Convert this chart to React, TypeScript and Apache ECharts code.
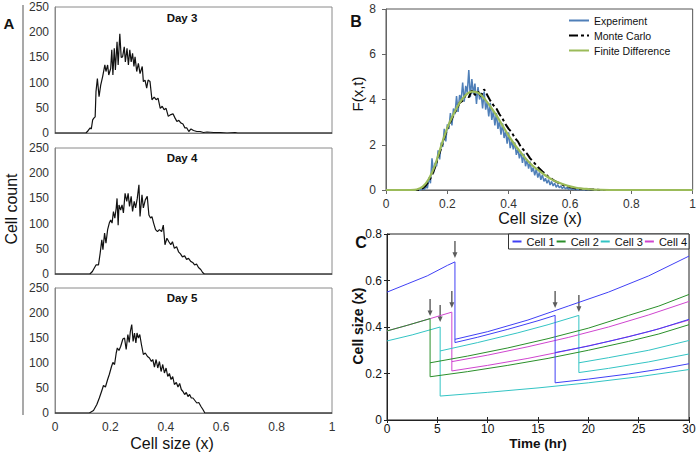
import React, { useEffect, useRef } from 'react';
import * as echarts from 'echarts';

// ---------- Panel A data (cell size, cell count) ----------
const day3Points = [
  [0, 0], [0.112, 0], [0.12, 5], [0.127, 10], [0.131, 8], [0.136, 26], [0.141, 30], [0.145, 32], [0.148, 82], [0.153, 108],
  [0.159, 72], [0.165, 95], [0.172, 112], [0.18, 135], [0.184, 122], [0.19, 135], [0.194, 115], [0.201, 128],
  [0.205, 165], [0.209, 115], [0.214, 168], [0.218, 125], [0.224, 181], [0.228, 135], [0.234, 197], [0.239, 150],
  [0.244, 151], [0.25, 171], [0.254, 141], [0.26, 168], [0.265, 135], [0.27, 165], [0.275, 141], [0.28, 158],
  [0.285, 132], [0.289, 151], [0.295, 122], [0.301, 138], [0.307, 118], [0.315, 132], [0.319, 102], [0.325, 105],
  [0.331, 89], [0.336, 105], [0.343, 102], [0.35, 66], [0.358, 71], [0.365, 66], [0.372, 69], [0.38, 49],
  [0.387, 53], [0.394, 46], [0.401, 49], [0.409, 33], [0.416, 36], [0.426, 38], [0.433, 30], [0.44, 23],
  [0.447, 25], [0.454, 20], [0.462, 18], [0.469, 10], [0.476, 10], [0.483, 3], [0.491, 8], [0.5, 5],
  [0.512, 3], [0.524, 3], [0.536, 1], [0.549, 2], [0.573, 1], [0.597, 1], [0.621, 0], [0.65, 1], [0.66, 0], [1, 0],
];

const day4Points = [
  [0, 0], [0.126, 0], [0.135, 5], [0.148, 18], [0.157, 18], [0.163, 41], [0.169, 68], [0.173, 48], [0.179, 81],
  [0.184, 61], [0.19, 88], [0.196, 101], [0.201, 107], [0.206, 101], [0.211, 124], [0.216, 111], [0.221, 131],
  [0.224, 150], [0.228, 97], [0.231, 137], [0.237, 127], [0.242, 137], [0.247, 121], [0.253, 160], [0.259, 144],
  [0.264, 160], [0.269, 134], [0.275, 154], [0.28, 124], [0.286, 144], [0.291, 131], [0.297, 150], [0.303, 177],
  [0.307, 114], [0.314, 157], [0.319, 131], [0.326, 147], [0.333, 154], [0.339, 117], [0.345, 111], [0.35, 114],
  [0.356, 101], [0.363, 88], [0.37, 84], [0.377, 88], [0.385, 84], [0.391, 97], [0.397, 58], [0.404, 71],
  [0.411, 64], [0.418, 58], [0.424, 64], [0.431, 51], [0.439, 54], [0.446, 44], [0.453, 40], [0.46, 34],
  [0.468, 36], [0.475, 29], [0.482, 31], [0.49, 25], [0.497, 23], [0.504, 18], [0.511, 20], [0.518, 13],
  [0.526, 9], [0.533, 3], [0.539, 0], [1, 0],
];

const day5Points = [
  [0, 0], [0.124, 0], [0.139, 5], [0.151, 17], [0.16, 30], [0.168, 43], [0.175, 55], [0.182, 52], [0.19, 67],
  [0.196, 77], [0.204, 93], [0.209, 101], [0.215, 97], [0.221, 120], [0.225, 130], [0.231, 125], [0.237, 133],
  [0.245, 148], [0.251, 150], [0.257, 127], [0.263, 157], [0.268, 141], [0.272, 163], [0.277, 177], [0.282, 143],
  [0.287, 160], [0.292, 140], [0.296, 160], [0.301, 150], [0.306, 157], [0.312, 137], [0.319, 117], [0.326, 120],
  [0.334, 113], [0.341, 110], [0.348, 103], [0.353, 107], [0.359, 92], [0.365, 107], [0.371, 90], [0.377, 103],
  [0.383, 83], [0.389, 97], [0.395, 80], [0.401, 90], [0.407, 73], [0.413, 79], [0.419, 67], [0.425, 73],
  [0.431, 57], [0.438, 61], [0.444, 52], [0.45, 59], [0.456, 47], [0.462, 43], [0.468, 37], [0.474, 41],
  [0.48, 33], [0.486, 37], [0.492, 30], [0.498, 30], [0.505, 25], [0.512, 20], [0.519, 21], [0.527, 13],
  [0.534, 7], [0.541, 0], [1, 0],
];

const dayTitles = ['Day 3', 'Day 4', 'Day 5'];
const countTicks = [0, 50, 100, 150, 200, 250];

// ---------- Panel B data (F(x,t)) ----------
const experimentPoints = [
  [0, 0], [0.1, 0], [0.105, 0], [0.11, 0], [0.115, 0.02], [0.12, 0.05], [0.125, 0.02], [0.13, 0.15], [0.135, 0.08],
  [0.14, 0.55], [0.145, 0.3], [0.15, 1.4], [0.155, 0.75], [0.16, 1.2], [0.165, 1.05], [0.17, 1.75], [0.175, 1.35],
  [0.18, 2.1], [0.185, 1.9], [0.19, 2.7], [0.195, 2.15], [0.2, 2.9], [0.205, 2.7], [0.21, 3.4], [0.215, 2.85],
  [0.22, 3.6], [0.225, 3.35], [0.23, 4.15], [0.235, 3.45], [0.24, 4.2], [0.245, 3.95], [0.25, 4.75], [0.255, 3.9],
  [0.26, 4.6], [0.265, 4.3], [0.27, 5.3], [0.275, 4.1], [0.28, 4.9], [0.285, 4.25], [0.29, 4.7], [0.295, 3.8],
  [0.3, 4.55], [0.305, 4.0], [0.31, 4.3], [0.315, 3.6], [0.32, 4.35], [0.325, 3.55], [0.33, 3.9], [0.335, 3.25],
  [0.34, 3.85], [0.345, 3.1], [0.35, 3.5], [0.355, 2.85], [0.36, 3.4], [0.365, 2.7], [0.37, 3.05], [0.375, 2.45],
  [0.38, 2.95], [0.385, 2.3], [0.39, 2.6], [0.395, 2.05], [0.4, 2.55], [0.405, 1.85], [0.41, 2.2], [0.415, 1.8],
  [0.42, 2.1], [0.425, 1.55], [0.43, 1.85], [0.435, 1.4], [0.44, 1.7], [0.445, 1.2], [0.45, 1.6], [0.455, 1.05],
  [0.46, 1.35], [0.465, 0.95], [0.47, 1.25], [0.475, 0.8], [0.48, 1.0], [0.485, 0.65], [0.49, 0.92], [0.495, 0.55],
  [0.5, 0.78], [0.505, 0.45], [0.51, 0.68], [0.515, 0.38], [0.52, 0.52], [0.525, 0.3], [0.53, 0.46], [0.535, 0.22],
  [0.54, 0.38], [0.545, 0.18], [0.55, 0.3], [0.555, 0.12], [0.56, 0.24], [0.565, 0.1], [0.57, 0.18], [0.575, 0.06],
  [0.58, 0.15], [0.585, 0.05], [0.59, 0.11], [0.595, 0.03], [0.6, 0.09], [0.605, 0.02], [0.61, 0.06], [0.615, 0.01],
  [0.62, 0.04], [0.625, 0.01], [0.63, 0.03], [0.635, 0], [0.64, 0.02], [0.645, 0], [0.65, 0.01], [0.66, 0], [1, 0],
];

const monteCarloPoints = [
  [0, 0], [0.1, 0], [0.11, 0.02], [0.12, 0.08], [0.13, 0.2], [0.14, 0.4], [0.15, 0.65], [0.16, 1.0], [0.17, 1.45],
  [0.18, 1.85], [0.19, 2.3], [0.2, 2.7], [0.21, 3.0], [0.22, 3.3], [0.23, 3.55], [0.24, 3.85], [0.25, 3.95],
  [0.26, 4.2], [0.27, 4.1], [0.28, 4.4], [0.29, 4.2], [0.3, 4.35], [0.31, 4.15], [0.32, 4.45], [0.33, 4.2],
  [0.34, 3.95], [0.35, 3.75], [0.36, 3.6], [0.37, 3.35], [0.38, 3.15], [0.39, 2.9], [0.4, 2.7], [0.41, 2.55],
  [0.42, 2.3], [0.43, 2.15], [0.44, 1.9], [0.45, 1.75], [0.46, 1.6], [0.47, 1.4], [0.48, 1.25], [0.49, 1.1],
  [0.5, 0.95], [0.51, 0.82], [0.52, 0.7], [0.53, 0.58], [0.54, 0.5], [0.55, 0.4], [0.56, 0.33], [0.57, 0.27],
  [0.58, 0.21], [0.59, 0.17], [0.6, 0.13], [0.61, 0.1], [0.62, 0.07], [0.63, 0.06], [0.64, 0.04], [0.65, 0.03],
  [0.66, 0.03], [0.67, 0.02], [0.68, 0.02], [0.69, 0.01], [0.7, 0], [1, 0],
];

const finiteDiffPoints = [
  [0, 0], [0.08, 0], [0.1, 0.02], [0.12, 0.15], [0.14, 0.5], [0.16, 1.1], [0.18, 1.95], [0.2, 2.75], [0.22, 3.35],
  [0.24, 3.85], [0.26, 4.2], [0.28, 4.35], [0.3, 4.3], [0.32, 4.05], [0.34, 3.7], [0.36, 3.3], [0.38, 2.85],
  [0.4, 2.4], [0.42, 2.0], [0.44, 1.65], [0.46, 1.32], [0.48, 1.05], [0.5, 0.85], [0.52, 0.64], [0.54, 0.47],
  [0.56, 0.34], [0.58, 0.24], [0.6, 0.16], [0.62, 0.1], [0.64, 0.06], [0.66, 0.04], [0.68, 0.02], [0.7, 0.01],
  [0.75, 0], [1, 0],
];

// ---------- Panel C data (time, cell size), one array per lineage segment ----------
const cell1Segments = [
  [[0, 0.55], [2, 0.585], [4, 0.62], [6, 0.665], [6.75, 0.68], [6.75, 0.333], [9, 0.356], [12, 0.39], [15, 0.427],
   [16.7, 0.45], [16.7, 0.16], [20, 0.176], [24, 0.198], [27, 0.218], [30, 0.242]],
  [[6.75, 0.347], [10, 0.38], [14, 0.43], [18, 0.49], [22, 0.55], [26, 0.62], [30, 0.705]],
  [[16.7, 0.29], [20, 0.318], [24, 0.358], [27, 0.392], [30, 0.433]],
];
const cell2Segments = [
  [[0, 0.383], [2, 0.407], [4.28, 0.436], [4.28, 0.186], [8, 0.208], [12, 0.235], [16, 0.265], [20, 0.3],
   [24, 0.338], [27, 0.37], [30, 0.41]],
  [[4.28, 0.246], [8, 0.275], [12, 0.31], [16, 0.35], [20, 0.395], [24, 0.45], [27, 0.49], [30, 0.54]],
];
const cell3Segments = [
  [[0, 0.34], [2.5, 0.366], [5.28, 0.4], [5.28, 0.103], [10, 0.119], [15, 0.138], [20, 0.16], [25, 0.186], [30, 0.217]],
  [[5.28, 0.297], [9, 0.333], [13, 0.375], [16, 0.41], [19.06, 0.45], [19.06, 0.204], [22, 0.222], [26, 0.25], [30, 0.284]],
  [[19.06, 0.246], [22, 0.268], [26, 0.3], [30, 0.342]],
];
const cell4Segments = [
  [[0, 0.383], [2, 0.407], [4.28, 0.436], [6.44, 0.464], [6.44, 0.211], [10, 0.235], [14, 0.265], [18, 0.3],
   [22, 0.338], [26, 0.38], [30, 0.43]],
  [[6.44, 0.251], [10, 0.279], [14, 0.315], [18, 0.355], [22, 0.4], [26, 0.452], [30, 0.51]],
];
const cellNames = ['Cell 1', 'Cell 2', 'Cell 3', 'Cell 4'];
const divisionArrowTips = [[4.28, 0.447], [5.28, 0.421], [6.44, 0.482], [6.75, 0.697], [16.7, 0.482], [19.06, 0.465]];

const FONT = '"Liberation Sans", Arial, Helvetica, sans-serif';

export default function App() {
  const ref = useRef<HTMLDivElement>(null);

  useEffect(() => {
    if (!ref.current) return;
    const chart = echarts.init(ref.current, null, { renderer: 'svg' });

    const gridsA = [
      { left: 55, top: 7, width: 277, height: 126 },
      { left: 55, top: 148, width: 277, height: 126 },
      { left: 55, top: 288, width: 277, height: 125 },
    ];
    const grids: any[] = gridsA.map((g) => ({
      ...g, show: true, borderColor: '#8a8a8a', borderWidth: 1, backgroundColor: 'transparent',
    }));
    grids.push({ left: 386, top: 9, width: 307, height: 181, show: true, borderColor: '#555', borderWidth: 1, backgroundColor: 'transparent' });
    grids.push({ left: 387, top: 234, width: 302, height: 186, show: true, borderColor: '#222', borderWidth: 1, backgroundColor: 'transparent' });

    const xAxes: any[] = [0, 1, 2].map((i) => ({
      type: 'value', gridIndex: i, min: 0, max: 1, interval: 0.2,
      axisLine: { show: true, lineStyle: { color: '#7a7a7a', width: 1 } },
      axisTick: { show: false }, splitLine: { show: false },
      axisLabel: { show: i === 2, color: '#333', fontSize: 12, fontFamily: FONT, margin: 8 },
    }));
    xAxes.push({
      type: 'value', gridIndex: 3, min: 0, max: 1, interval: 0.2,
      axisLine: { show: true, lineStyle: { color: '#666', width: 1 } },
      axisTick: { show: true, length: 4, lineStyle: { color: '#666' } }, splitLine: { show: false },
      axisLabel: { color: '#333', fontSize: 12, fontFamily: FONT, margin: 8 },
    });
    xAxes.push({
      type: 'value', gridIndex: 4, min: 0, max: 30, interval: 5,
      axisLine: { show: true, onZero: false, lineStyle: { color: '#222', width: 1 } },
      axisTick: { show: true, inside: true, length: 3, lineStyle: { color: '#222' } }, splitLine: { show: false },
      axisLabel: { color: '#111', fontSize: 12, fontFamily: FONT, margin: 3 },
    });
    xAxes.push({
      type: 'value', gridIndex: 4, position: 'top', min: 0, max: 30, interval: 5,
      axisLine: { show: false }, axisTick: { show: true, inside: true, length: 3, lineStyle: { color: '#222' } },
      splitLine: { show: false }, axisLabel: { show: false },
    });

    const yAxes: any[] = [0, 1, 2].map((i) => ({
      type: 'value', gridIndex: i, min: countTicks[0], max: countTicks[countTicks.length - 1], interval: 50,
      axisLine: { show: true, lineStyle: { color: '#8a8a8a', width: 1 } },
      axisTick: { show: false }, splitLine: { show: false },
      axisLabel: { color: '#333', fontSize: 12, fontFamily: FONT, margin: 6 },
    }));
    yAxes.push({
      type: 'value', gridIndex: 3, min: 0, max: 8, interval: 2,
      axisLine: { show: true, lineStyle: { color: '#666', width: 1 } },
      axisTick: { show: true, length: 4, lineStyle: { color: '#666' } }, splitLine: { show: false },
      axisLabel: { color: '#333', fontSize: 12, fontFamily: FONT, margin: 10 },
    });
    yAxes.push({
      type: 'value', gridIndex: 4, min: 0, max: 0.8, interval: 0.2,
      axisLine: { show: true, onZero: false, lineStyle: { color: '#222', width: 1 } },
      axisTick: { show: true, inside: true, length: 3, lineStyle: { color: '#222' } }, splitLine: { show: false },
      axisLabel: { color: '#111', fontSize: 12, fontFamily: FONT, margin: 5 },
    });
    yAxes.push({
      type: 'value', gridIndex: 4, position: 'right', min: 0, max: 0.8, interval: 0.2,
      axisLine: { show: false }, axisTick: { show: true, inside: true, length: 3, lineStyle: { color: '#222' } },
      splitLine: { show: false }, axisLabel: { show: false },
    });

    const series: any[] = [];
    [day3Points, day4Points, day5Points].forEach((pts, i) => {
      series.push({
        type: 'line', xAxisIndex: i, yAxisIndex: i, data: pts, symbol: 'none', silent: true,
        lineStyle: { color: '#111', width: 1.2 }, itemStyle: { color: '#111' },
      });
    });

    series.push({
      name: 'Experiment', type: 'line', xAxisIndex: 3, yAxisIndex: 3, data: experimentPoints, symbol: 'none',
      silent: true, lineStyle: { color: '#4f7fb8', width: 1.5 }, itemStyle: { color: '#4f7fb8' },
    });
    series.push({
      name: 'Monte Carlo', type: 'line', xAxisIndex: 3, yAxisIndex: 3, data: monteCarloPoints, symbol: 'none',
      silent: true, lineStyle: { color: '#000', width: 2, type: [9, 3, 3, 3] }, itemStyle: { color: '#000' },
    });
    series.push({
      name: 'Finite Difference', type: 'line', xAxisIndex: 3, yAxisIndex: 3, data: finiteDiffPoints, symbol: 'none',
      smooth: 0.3, silent: true, lineStyle: { color: '#9bbb59', width: 2.2 }, itemStyle: { color: '#9bbb59' },
    });

    const cellColors = ['#4040f5', '#2a8f2a', '#33c4c4', '#cf45cf'];
    const drawOrder = [3, 2, 1, 0];
    const segs = [cell1Segments, cell2Segments, cell3Segments, cell4Segments];
    drawOrder.forEach((ci) => {
      segs[ci].forEach((seg) => {
        series.push({
          name: cellNames[ci], type: 'line', xAxisIndex: 4, yAxisIndex: 4, data: seg, symbol: 'none', silent: true,
          lineStyle: { color: cellColors[ci], width: 1 }, itemStyle: { color: cellColors[ci] },
        });
      });
    });
    series.push({
      type: 'scatter', xAxisIndex: 4, yAxisIndex: 4, data: divisionArrowTips, silent: true,
      symbol: 'path://M1.8,0 L3.2,0 L3.2,12 L5,12 L2.5,18 L0,12 L1.8,12 Z',
      symbolSize: [5, 17], symbolOffset: [0, '-50%'], itemStyle: { color: '#333' },
    });

    const txt = (text: string, x: number, y: number, size: number, bold = false, rotation = 0) => ({
      type: 'text', x, y, rotation, silent: true,
      style: { text, fontSize: size, fontWeight: bold ? 'bold' : 'normal', fontFamily: FONT, fill: '#111', align: 'center', verticalAlign: 'middle' },
    });

    const graphic: any[] = [
      { type: 'line', silent: true, shape: { x1: 23, y1: 5, x2: 23, y2: 415 }, style: { stroke: '#8c8c8c', lineWidth: 1.5 } },
      txt('A', 9, 23, 15, true),
      txt(dayTitles[0], 182, 18, 11.5, true),
      txt(dayTitles[1], 182, 158, 11.5, true),
      txt(dayTitles[2], 182, 298, 11.5, true),
      txt('Cell count', 11, 209, 16, false, Math.PI / 2),
      txt('Cell size (x)', 172, 443, 16),
      txt('B', 356, 21, 16, true),
      txt('F(x,t)', 357, 94, 15, false, Math.PI / 2),
      txt('Cell size (x)', 540, 218, 16),
      txt('C', 361, 242, 16, true),
      txt('Cell size (x)', 358, 326, 14, true, Math.PI / 2),
      txt('Time (hr)', 538, 443, 13.5, true),
    ];

    const hiddenSymbol = { color: 'transparent', borderColor: 'transparent', borderWidth: 0, opacity: 0 };

    chart.setOption({
      animation: false,
      backgroundColor: '#fff',
      grid: grids,
      xAxis: xAxes,
      yAxis: yAxes,
      series,
      legend: [
        {
          data: ['Experiment', 'Monte Carlo', 'Finite Difference'], orient: 'vertical', left: 568, top: 15,
          itemWidth: 20, itemHeight: 10, itemGap: 4, selectedMode: false, padding: 0,
          itemStyle: hiddenSymbol,
          textStyle: { fontSize: 10.5, fontFamily: FONT, color: '#111' },
        },
        {
          data: cellNames, orient: 'horizontal', right: 10, top: 234, selectedMode: false,
          itemWidth: 9, itemHeight: 10, itemGap: 1, padding: [2, 2, 2, 3],
          itemStyle: hiddenSymbol,
          borderColor: '#333', borderWidth: 1, backgroundColor: '#fff',
          textStyle: { fontSize: 11, fontFamily: FONT, color: '#111' },
        },
      ],
      graphic,
    });

    return () => chart.dispose();
  }, []);

  return <div ref={ref} style={{ position: 'absolute', left: 0, top: 0, width: 699, height: 455 }} />;
}
